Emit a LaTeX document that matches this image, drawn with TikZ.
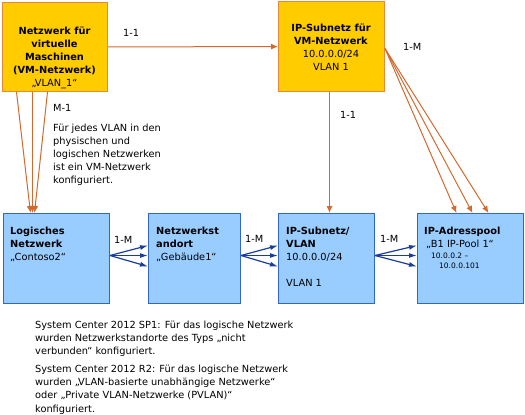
\documentclass[tikz,border=0pt]{standalone}
\usepackage{fontspec}
\setmainfont{DejaVu Sans}
\usetikzlibrary{arrows.meta, positioning, calc}
\definecolor{vmgelb}{HTML}{FFCC00}
\definecolor{vmrand}{HTML}{E8883A}
\definecolor{orangelinie}{HTML}{D4692E}
\definecolor{lnblau}{HTML}{99CCFF}
\definecolor{lnrand}{HTML}{3366CC}
\definecolor{pfeilblau}{HTML}{1A3C9C}
\tikzset{
  gelbbox/.style={draw=vmrand, fill=vmgelb, line width=1pt, anchor=north west, inner sep=0pt},
  blaubox/.style={draw=lnrand, fill=lnblau, line width=1pt, anchor=north west, inner sep=0pt, minimum height=90pt},
  boxtext/.style={inner sep=0pt, font=\fontsize{9.8}{13}\selectfont},
  orangepfeil/.style={draw=orangelinie, line width=1pt, -{Latex[length=7pt,width=6pt]}},
  blaupfeil/.style={draw=pfeilblau, line width=1.2pt, -{Latex[length=8pt,width=5pt]}},
  beschriftung/.style={inner sep=0pt, anchor=west, font=\fontsize{9.8}{13}\selectfont}
}
\begin{document}
\begin{tikzpicture}[x=1pt, y=-1pt]
    \useasboundingbox (0,0) rectangle (525,415);
    % Kaesten
    \node[gelbbox, minimum width=105pt, minimum height=89pt] (vmnetz) at (2,2) {};
    \node[gelbbox, minimum width=106pt, minimum height=90pt] (vmsubnetz) at (278,1) {};
    \node[blaubox, minimum width=106pt] (lognetz) at (3,213) {};
    \node[blaubox, minimum width=92pt] (standort) at (148,213) {};
    \node[blaubox, minimum width=96pt] (subnetz) at (278,213) {};
    \node[blaubox, minimum width=106pt] (pool) at (417,213) {};
    % Texte in den Kaesten
    \node[boxtext, align=center, anchor=north] (vmnetztext) at (54.5,27)
        {\textbf{Netzwerk für}\\ \textbf{virtuelle}\\ \textbf{Maschinen}\\ \textbf{(VM-Netzwerk)}\\ „VLAN\_1“};
    \node[boxtext, align=center, anchor=north] (vmsubnetztext) at (331,24)
        {\textbf{IP-Subnetz für}\\ \textbf{VM-Netzwerk}\\ 10.0.0.0/24\\ VLAN 1};
    \node[boxtext, align=left, anchor=north west] (lognetztext) at (10,227)
        {\textbf{Logisches}\\ \textbf{Netzwerk}\\ „Contoso2“};
    \node[boxtext, align=left, anchor=north west] (standorttext) at (156,227)
        {\textbf{Netzwerkst}\\ \textbf{andort}\\ „Gebäude1“};
    \node[boxtext, align=left, anchor=north west] (subnetztext) at (286,227)
        {\textbf{IP-Subnetz/}\\ \textbf{VLAN}\\ 10.0.0.0/24\\[12.5pt] VLAN 1};
    \node[boxtext, align=left, anchor=north west] (pooltext) at (424,227)
        {\textbf{IP-Adresspool}\\ \hspace*{2pt}„B1 IP-Pool 1“};
    \node[inner sep=0pt, align=left, anchor=north west, font=\fontsize{7.5}{10}\selectfont] (poolbereich) at (431,253)
        {10.0.0.2 –\\ \hspace*{8pt}10.0.0.101};
    % Orange Verbindungen
    \draw[orangepfeil] (vmnetz) -- (vmsubnetz);
    \draw[orangepfeil] ([xshift=-38.5pt]vmnetz.south) -- ([xshift=-26pt]lognetz.north);
    \draw[orangepfeil] ([xshift=-22.5pt]vmnetz.south) -- ([xshift=-24pt]lognetz.north);
    \draw[orangepfeil] ([xshift=-7.5pt]vmnetz.south) -- ([xshift=-22pt]lognetz.north);
    \draw[orangepfeil] ([xshift=-2pt]vmsubnetz.south) -- ([xshift=3pt]subnetz.north);
    \draw[orangepfeil] ([yshift=-2pt]vmsubnetz.east) -- ([xshift=-14pt]pool.north);
    \draw[orangepfeil] ([yshift=-2pt]vmsubnetz.east) -- ([xshift=2pt]pool.north);
    \draw[orangepfeil] ([yshift=-2pt]vmsubnetz.east) -- ([xshift=18pt]pool.north);
    % Blaue Verbindungen
    \draw[blaupfeil] ([yshift=3pt]lognetz.east) -- ([yshift=13pt]standort.west);
    \draw[blaupfeil] ([yshift=3pt]lognetz.east) -- ([yshift=3pt]standort.west);
    \draw[blaupfeil] ([yshift=3pt]lognetz.east) -- ([yshift=-8pt]standort.west);
    \draw[blaupfeil] ([yshift=3pt]standort.east) -- ([yshift=13pt]subnetz.west);
    \draw[blaupfeil] ([yshift=3pt]standort.east) -- ([yshift=3pt]subnetz.west);
    \draw[blaupfeil] ([yshift=3pt]standort.east) -- ([yshift=-8pt]subnetz.west);
    \draw[blaupfeil] ([yshift=3pt]subnetz.east) -- ([yshift=13pt]pool.west);
    \draw[blaupfeil] ([yshift=3pt]subnetz.east) -- ([yshift=3pt]pool.west);
    \draw[blaupfeil] ([yshift=3pt]subnetz.east) -- ([yshift=-8pt]pool.west);
    % Beschriftungen
    \node[beschriftung] (eins) at (123,33) {1-1};
    \node[beschriftung] (meins) at (53,108) {M-1};
    \node[boxtext, align=left, anchor=north west] (vlanhinweis) at (53,124)
        {Für jedes VLAN in den\\ physischen und\\ logischen Netzwerken\\ ist ein VM-Netzwerk\\ konfiguriert.};
    \node[beschriftung] (einsb) at (340,115) {1-1};
    \node[beschriftung] (einsm) at (403,47) {1-M};
    \node[beschriftung] (einsma) at (114,240) {1-M};
    \node[beschriftung] (einsmb) at (245,239) {1-M};
    \node[beschriftung] (einsmc) at (380,239) {1-M};
    % Fussnoten
    \node[boxtext, align=left, anchor=north west, font=\fontsize{9.8}{13.3}\selectfont] (sponetext) at (35,320.5)
        {System Center 2012 SP1: Für das logische Netzwerk\\ wurden Netzwerkstandorte des Typs „nicht\\ verbunden“ konfiguriert.};
    \node[boxtext, align=left, font=\fontsize{9.8}{13.3}\selectfont, below=7.5pt of sponetext.south west, anchor=north west] (rzweitext)
        {System Center 2012 R2: Für das logische Netzwerk\\ wurden „VLAN-basierte unabhängige Netzwerke“\\ oder „Private VLAN-Netzwerke (PVLAN)“\\ konfiguriert.};
\end{tikzpicture}
\end{document}
